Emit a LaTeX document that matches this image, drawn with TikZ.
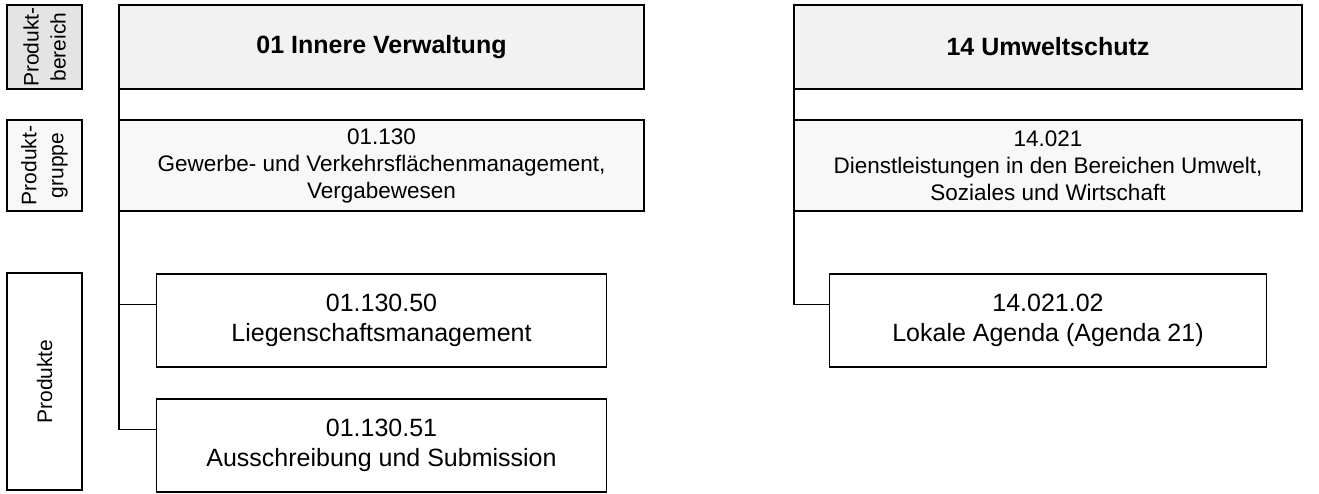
\documentclass[tikz,border=0pt]{standalone}
\usepackage{fontspec}
\setmainfont{Liberation Sans}
\usetikzlibrary{positioning}
\definecolor{labelfill}{HTML}{E4E4E4}
\definecolor{bereichfill}{HTML}{F2F2F2}
\definecolor{gruppefill}{HTML}{F8F8F8}

\begin{document}
\begin{tikzpicture}[x=1pt, y=-1pt, line width=1.6pt, outer sep=0pt,
    box/.style={draw, align=center, inner sep=2pt},
    ebene/.style={box, minimum height=75pt, rotate=90, font=\fontsize{21}{27}\selectfont},
    bereich/.style={box, fill=bereichfill, minimum height=84pt, font=\fontsize{25}{30}\selectfont\bfseries},
    gruppe/.style={box, fill=gruppefill, minimum height=91pt, font=\fontsize{22.5}{27}\selectfont},
    produkt/.style={box, fill=white, minimum height=93pt, font=\fontsize{25}{30}\selectfont}]
        \useasboundingbox (0,0) rectangle (1319,493);

        % Define levels
        \node[bereich, minimum width=525pt] (BerA) at (381.5,47) {01 Innere Verwaltung};
        \node[gruppe, minimum width=525pt] (GrA) [below=31pt of BerA] {01.130\\Gewerbe- und Verkehrsflächenmanagement,\\Vergabewesen};
        \node[produkt, minimum width=450pt] (ProdA1) [below=63pt of GrA] {01.130.50\\Liegenschaftsmanagement};
        \node[produkt, minimum width=450pt] (ProdA2) [below=32pt of ProdA1] {01.130.51\\Ausschreibung und Submission};

        \node[bereich, minimum width=508pt] (BerB) at (1048,47) {14 Umweltschutz};
        \node[gruppe, minimum width=508pt] (GrB) [below=31pt of BerB] {14.021\\Dienstleistungen in den Bereichen Umwelt,\\Soziales und Wirtschaft};
        \node[produkt, minimum width=437pt] (ProdB1) [below=63pt of GrB] {14.021.02\\Lokale Agenda (Agenda 21)};

        % Side labels
        \node[ebene, fill=labelfill, minimum width=84pt] (LbBer) at (44.5,47) {Produkt-\\bereich};
        \node[ebene, fill=gruppefill, minimum width=91pt] (LbGr) at (44.5,165.5) {Produkt-\\gruppe};
        \node[ebene, fill=white, minimum width=217pt] (LbProd) at (44.5,381.5) {Produkte};

        % Connectors
        \coordinate (jA1) at ([yshift=16pt]ProdA1.west);
        \coordinate (jA2) at ([yshift=16pt]ProdA2.west);
        \coordinate (jB1) at ([yshift=16pt]ProdB1.west);
        \draw (BerA.south west) -- (GrA.north west);
        \draw (GrA.south west) |- (jA1);
        \draw (GrA.south west) |- (jA2);
        \draw (BerB.south west) -- (GrB.north west);
        \draw (GrB.south west) |- (jB1);
    \end{tikzpicture}
\end{document}
